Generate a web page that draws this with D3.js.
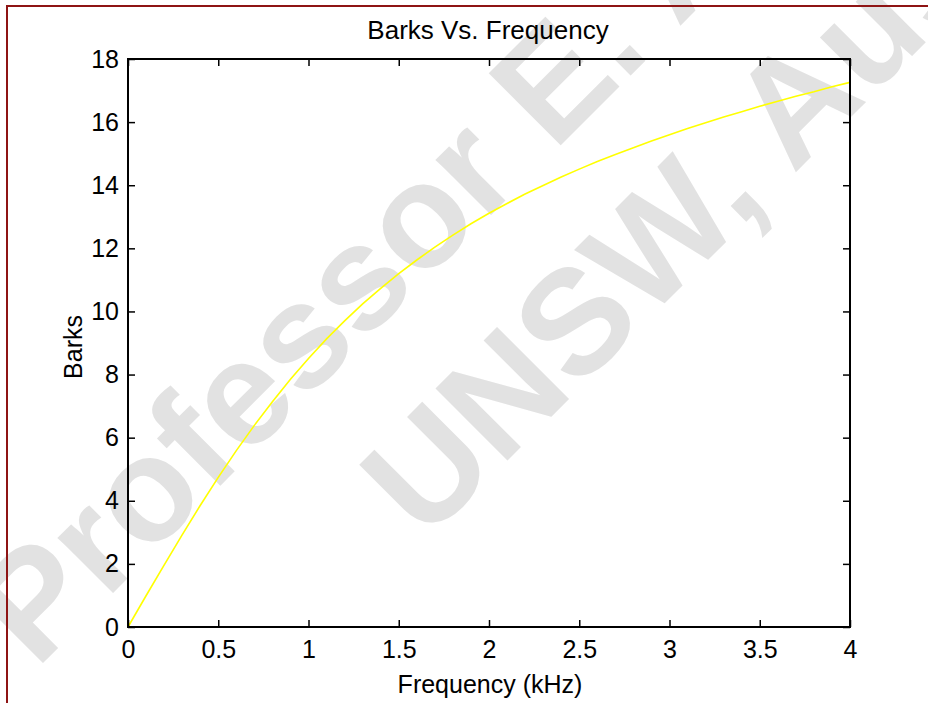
<!DOCTYPE html>
<html>
<head>
<meta charset="utf-8">
<script src="https://cdn.jsdelivr.net/npm/d3@7"></script>
<style>
  html, body { margin: 0; padding: 0; background: #fff; }
  svg { display: block; }
  text { font-family: "Liberation Sans", Arial, sans-serif; }
</style>
</head>
<body>
<svg id="chart" width="928" height="703"></svg>
<script>
// ---- data ----
const freqKHz = [0, 0.1, 0.2, 0.3, 0.4, 0.5, 0.6, 0.7, 0.8, 0.9, 1.0,
                 1.1, 1.2, 1.3, 1.4, 1.5, 1.6, 1.7, 1.8, 1.9, 2.0,
                 2.1, 2.2, 2.3, 2.4, 2.5, 2.6, 2.7, 2.8, 2.9, 3.0,
                 3.1, 3.2, 3.3, 3.4, 3.5, 3.6, 3.7, 3.8, 3.9, 4.0];
const barks   = [0, 0.99, 1.96, 2.92, 3.85, 4.74, 5.59, 6.39, 7.14, 7.85, 8.51,
                 9.13, 9.70, 10.24, 10.73, 11.20, 11.63, 12.04, 12.42, 12.78, 13.11,
                 13.42, 13.72, 13.99, 14.26, 14.51, 14.75, 14.97, 15.19, 15.40, 15.60,
                 15.80, 15.98, 16.16, 16.33, 16.50, 16.66, 16.82, 16.96, 17.12, 17.26];
const xTicks = [0, 0.5, 1, 1.5, 2, 2.5, 3, 3.5, 4];
const yTicks = [0, 2, 4, 6, 8, 10, 12, 14, 16, 18];
const titleText = "Barks Vs. Frequency";
const xLabel = "Frequency (kHz)";
const yLabel = "Barks";
const watermarkLines = ["Professor E. Ambikairajah", "UNSW, Australia"];

// ---- layout ----
const svg = d3.select("#chart");
const W = 928, H = 703;
const pLeft = 128, pRight = 850, pTop = 59, pBottom = 627;
const x = d3.scaleLinear().domain([0, 4]).range([pLeft, pRight]);
const y = d3.scaleLinear().domain([0, 18]).range([pBottom, pTop]);

svg.append("rect").attr("width", W).attr("height", H).attr("fill", "#fff");

// watermark (behind the plot)
const wm = svg.append("g").attr("fill", "#e2e2e2")
  .style("font-weight", "bold").style("font-size", "148px");
wm.append("text").attr("transform", "translate(36,670) rotate(-45)").text(watermarkLines[0]);
wm.append("text").attr("transform", "translate(425,543) rotate(-45)").text(watermarkLines[1]);

// frame border
svg.append("rect").attr("x", 7).attr("y", 6).attr("width", 940).attr("height", 720)
  .attr("fill", "none").attr("stroke", "#8e1414").attr("stroke-width", 2);

// data line
const line = d3.line().x((d, i) => x(freqKHz[i])).y(d => y(d));
svg.append("path").datum(barks).attr("d", line)
  .attr("fill", "none").attr("stroke", "#ffff00").attr("stroke-width", 1.6);

// axes (inside ticks, MATLAB style)
const fmt = d => String(d);
const axB = svg.append("g").attr("transform", `translate(0,${pBottom})`)
  .call(d3.axisBottom(x).tickValues(xTicks).tickSize(-7).tickPadding(13).tickFormat(fmt));
const axT = svg.append("g").attr("transform", `translate(0,${pTop})`)
  .call(d3.axisTop(x).tickValues(xTicks).tickSize(-7).tickFormat(""));
const axL = svg.append("g").attr("transform", `translate(${pLeft},0)`)
  .call(d3.axisLeft(y).tickValues(yTicks).tickSize(-7).tickPadding(9).tickFormat(fmt));
const axR = svg.append("g").attr("transform", `translate(${pRight},0)`)
  .call(d3.axisRight(y).tickValues(yTicks).tickSize(-7).tickFormat(""));
[axB, axT, axL, axR].forEach(a => {
  a.select(".domain").remove();
  a.selectAll(".tick line").attr("stroke", "#000").attr("stroke-width", 1.5);
  a.selectAll(".tick text").attr("fill", "#000").style("font-size", "25px")
    .style("font-family", "'Liberation Sans', Arial, sans-serif");
});
axB.selectAll(".tick text").attr("dy", "0.71em");

// box
svg.append("rect").attr("x", pLeft).attr("y", pTop)
  .attr("width", pRight - pLeft).attr("height", pBottom - pTop)
  .attr("fill", "none").attr("stroke", "#000").attr("stroke-width", 2);

// labels
svg.append("text").attr("x", (pLeft + pRight) / 2 - 1).attr("y", 39)
  .attr("text-anchor", "middle").style("font-size", "26px").text(titleText);
svg.append("text").attr("x", (pLeft + pRight) / 2 + 1).attr("y", 693)
  .attr("text-anchor", "middle").style("font-size", "25px").text(xLabel);
svg.append("text").attr("transform", `translate(82,${(pTop + pBottom) / 2 + 4}) rotate(-90)`)
  .attr("text-anchor", "middle").style("font-size", "25px").text(yLabel);
</script>
</body>
</html>
